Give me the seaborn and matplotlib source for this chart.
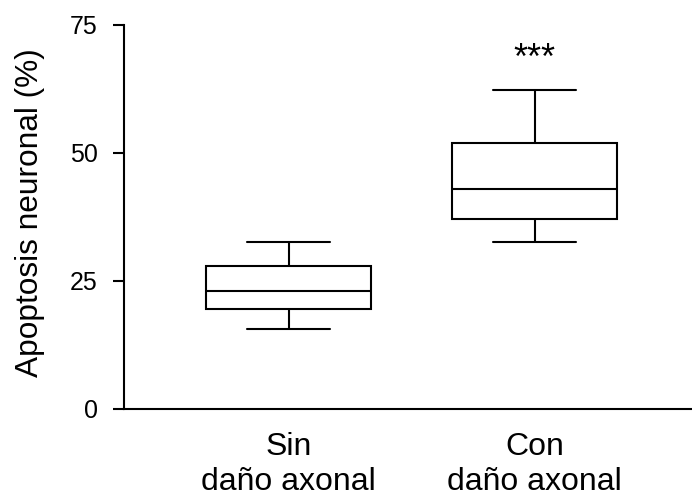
import numpy as np
import pandas as pd
import matplotlib
matplotlib.use("Agg")
import matplotlib.pyplot as plt
import seaborn as sns

# Box statistics: [low whisker, Q1, median, Q3, high whisker]
categories = ["Sin\ndaño axonal", "Con\ndaño axonal"]
sin_dano = [15.6, 19.4, 23.1, 27.8, 32.6]
con_dano = [32.6, 37.1, 43.0, 52.0, 62.3]
y_ticks = [0, 25, 50, 75]

df = pd.DataFrame({
    "grupo": [categories[0]] * len(sin_dano) + [categories[1]] * len(con_dano),
    "valor": sin_dano + con_dano,
})

sns.set_style("ticks")
plt.rcParams["font.family"] = ["Liberation Sans", "DejaVu Sans"]
plt.rcParams["text.color"] = "black"
plt.rcParams["axes.labelcolor"] = "black"
plt.rcParams["xtick.color"] = "black"
plt.rcParams["ytick.color"] = "black"

fig = plt.figure(figsize=(6.92, 5.0), dpi=100)
ax = fig.add_axes([124.3 / 692, 1 - 408.7 / 500, (692 - 124.3) / 692, (408.7 - 25) / 500])

lw = 1.5
sns.boxplot(data=df, x="grupo", y="valor", order=categories, ax=ax, width=0.67,
            whis=1.5, showfliers=False, fill=True, color="white", linecolor="black",
            linewidth=lw,
            boxprops=dict(facecolor="white", edgecolor="black", linewidth=lw),
            whiskerprops=dict(color="black", linewidth=lw),
            capprops=dict(color="black", linewidth=lw),
            medianprops=dict(color="black", linewidth=lw))

ax.set_xlim(-0.667, 1.639)
ax.set_ylim(0, 75)
ax.set_yticks(y_ticks)
ax.set_xlabel("")
ax.set_ylabel("Apoptosis neuronal (%)", fontsize=22.8, color="black")
ax.yaxis.set_label_coords(-0.1397, 0.511)
ax.tick_params(axis="y", labelsize=18, length=8, width=1.5, pad=11, color="black",
               labelcolor="black")
ax.tick_params(axis="x", labelsize=23, length=0, pad=16.5, labelcolor="black")
for lab in ax.get_xticklabels():
    lab.set_linespacing(1.22)
for s in ["top", "right"]:
    ax.spines[s].set_visible(False)
for s in ["left", "bottom"]:
    ax.spines[s].set_linewidth(1.5)
    ax.spines[s].set_color("black")

ax.text(1, 66.4, "***", ha="center", va="baseline", fontsize=26, color="black")

fig.savefig("out.png", dpi=100)
